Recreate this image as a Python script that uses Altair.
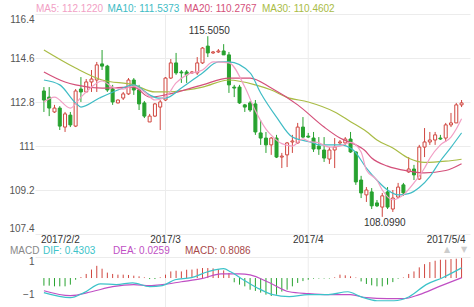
import altair as alt
import pandas as pd

# ---------------- data ----------------
opens = [113.26, 113.01, 112.40, 112.56, 111.78, 112.27, 111.82, 113.34, 113.22, 113.63,
         113.71, 114.37, 114.28, 113.34, 112.77, 112.97, 113.14, 113.71, 113.30, 112.77,
         111.99, 112.23, 112.60, 112.89, 113.79, 114.41, 114.04, 114.04, 114.00, 114.00,
         114.41, 115.10, 114.82, 114.86, 114.90, 114.74, 113.42, 113.42, 112.69, 112.77,
         112.73, 111.54, 111.33, 111.05, 111.33, 110.55, 110.64, 111.17, 111.13, 111.78,
         111.41, 111.33, 111.00, 110.84, 110.47, 110.84, 111.13, 111.13, 111.29, 110.76,
         109.61, 109.00, 109.12, 108.67, 108.50, 109.12, 108.42, 108.91, 109.41, 109.94,
         110.06, 109.65, 110.96, 111.17, 111.25, 111.33, 111.33, 111.87, 111.95, 112.69]
highs = [113.42, 113.42, 112.69, 112.64, 112.40, 112.40, 113.34, 113.83, 113.75, 114.12,
         114.45, 114.94, 114.33, 113.51, 112.91, 113.22, 113.79, 113.79, 113.51, 112.85,
         112.32, 112.77, 112.89, 113.83, 114.57, 114.82, 114.12, 114.12, 114.08, 114.65,
         115.06, 115.505, 114.90, 114.98, 115.18, 114.86, 113.51, 113.51, 112.73, 112.85,
         112.89, 112.07, 111.58, 111.37, 111.46, 110.72, 111.17, 111.46, 111.95, 112.19,
         111.54, 111.58, 111.37, 111.37, 110.96, 111.33, 111.25, 111.37, 111.58, 110.78,
         109.78, 109.32, 109.28, 108.79, 109.08, 109.32, 109.20, 109.49, 109.49, 110.55,
         110.23, 111.05, 111.74, 111.58, 111.58, 111.46, 111.95, 112.36, 112.77, 112.89]
lows = [112.40, 112.23, 112.36, 111.66, 111.58, 111.78, 111.78, 112.81, 113.22, 113.22,
        113.22, 114.12, 113.22, 112.69, 112.75, 112.89, 113.10, 113.10, 112.48, 112.15,
        111.99, 112.19, 111.66, 112.85, 113.75, 113.92, 113.59, 113.59, 113.96, 113.92,
        114.37, 114.65, 114.78, 114.82, 114.74, 113.18, 113.01, 112.73, 112.40, 112.40,
        111.46, 111.05, 110.72, 110.64, 110.51, 110.10, 110.14, 110.72, 111.09, 111.33,
        111.33, 110.76, 110.64, 110.35, 110.27, 110.10, 111.05, 111.05, 110.72, 109.41,
        108.87, 108.71, 108.42, 108.50, 108.099, 108.42, 108.30, 108.87, 108.96, 109.90,
        109.61, 109.61, 110.55, 111.05, 111.05, 111.25, 111.17, 111.78, 111.95, 112.60]
closes = [112.89, 112.56, 112.56, 111.82, 112.32, 111.87, 113.26, 113.22, 113.63, 113.75,
          114.33, 114.28, 113.30, 112.81, 112.89, 113.14, 113.71, 113.30, 112.73, 112.23,
          112.23, 112.73, 112.81, 113.79, 114.41, 114.00, 114.00, 113.92, 114.04, 114.41,
          115.02, 114.82, 114.86, 114.90, 114.74, 113.51, 113.38, 112.77, 112.60, 112.48,
          111.58, 111.33, 111.05, 111.33, 110.55, 110.59, 111.13, 111.21, 111.78, 111.37,
          111.37, 110.88, 110.88, 110.51, 110.84, 110.96, 111.17, 111.29, 110.76, 109.53,
          109.08, 109.20, 108.55, 108.55, 108.96, 108.50, 108.87, 109.32, 109.08, 110.06,
          109.82, 110.96, 111.17, 111.25, 111.46, 111.29, 111.87, 111.95, 112.69, 112.77]

ma5_i = [0, 2, 5, 7, 9, 11, 13, 15, 17, 19, 21, 23, 25, 27, 30, 32, 35, 38, 40, 42, 43, 45,
         47, 49, 50, 52, 54, 56, 58, 60, 61, 63, 64, 66, 68, 70, 72, 73, 75, 77, 78, 79]
ma5_v = [112.81, 113.01, 112.56, 113.0, 113.42, 113.67, 113.42, 113.34, 113.46, 113.22, 112.89,
         113.01, 113.59, 113.92, 114.12, 114.45, 114.41, 113.42, 112.45, 111.7, 111.45, 111.1,
         111.0, 111.3, 111.2, 111.13, 110.96, 111.0, 111.15, 110.76, 110.02, 109.6, 109.2,
         108.8, 109.0, 109.49, 110.1, 110.5, 111.05, 111.37, 111.7, 112.12]
ma10_i = [0, 3, 6, 7, 10.5, 14, 17, 20, 21.6, 23, 26, 30, 33, 35, 39, 41, 44, 47, 51, 52, 56,
          58.5, 61, 63, 65, 67, 69, 71, 73, 75, 77, 79]
ma10_v = [113.71, 113.51, 112.77, 112.60, 112.97, 113.30, 113.51, 113.10, 112.97, 112.97,
          113.38, 114.00, 114.45, 114.45, 114.00, 113.18, 112.19, 111.37, 111.13, 111.05,
          111.05, 110.84, 110.10, 109.6, 109.2, 109.0, 109.05, 109.3, 109.75, 110.4, 110.95,
          111.54]
ma20_i = [0, 4, 6, 11, 17, 20, 23, 30, 35, 39, 43, 48, 53, 56, 59, 60.6, 62, 65, 69, 72, 76, 79]
ma20_v = [114.04, 113.63, 113.51, 113.38, 113.42, 113.01, 113.10, 113.51, 113.79, 113.79,
          113.38, 112.69, 111.78, 111.33, 111.05, 110.84, 110.51, 110.18, 109.98, 109.90,
          110.0, 110.28]
ma30_i = [0, 6, 11, 17, 21, 23, 27, 30, 35, 40, 43, 46, 50, 55, 58, 61, 63, 66, 69, 72, 76, 79]
ma30_v = [114.94, 114.20, 113.71, 113.51, 113.22, 113.22, 113.3, 113.42, 113.71, 113.51,
          113.3, 113.0, 112.81, 112.4, 112.0, 111.6, 111.25, 110.92, 110.5, 110.33, 110.38,
          110.46]

macd_hist = [-0.45, -0.45, -0.49, -0.49, -0.49, -0.39, -0.1, 0.05, 0.24, 0.5,
             0.72, 0.55, 0.32, 0.24, 0.2, 0.2, 0.18, 0.14, 0.1, 0.04,
             -0.06, -0.06, 0.04, 0.2, 0.39, 0.43, 0.39, 0.49, 0.5, 0.55,
             0.59, 0.59, 0.57, 0.52, 0.45, 0.3, -0.25, -0.39, -0.49, -0.69,
             -0.76, -0.86, -0.98, -1.06, -0.98, -0.8, -0.69, -0.49, -0.29, -0.18,
             -0.1, -0.04, -0.03, -0.03, -0.03, 0.04, 0.2, 0.16, 0.1, 0.03,
             -0.2, -0.35, -0.43, -0.49, -0.49, -0.39, -0.24, -0.04, 0.03, 0.24,
             0.39, 0.63, 0.82, 0.94, 1.02, 1.08, 1.08, 1.12, 1.14, 1.18]
dif_i = [0, 5, 7.6, 10.7, 13.7, 16.8, 20, 22.4, 24.8, 27.9, 31, 34, 35.3, 37.7, 40.3, 43.3,
         46.4, 50, 53.8, 57.5, 59.9, 63, 66.2, 69.1, 72.3, 75.4, 79]
dif_v = [-0.86, -1.16, -0.86, -0.34, -0.39, -0.28, -0.51, -0.45, -0.1, 0.02, 0.37, 0.55, 0.37,
         -0.1, -0.57, -0.98, -1.1, -0.98, -0.98, -0.81, -1.1, -1.34, -1.34, -1.1, -0.39, 0.02,
         0.6]
dea_i = [0, 5, 9, 13, 17, 20, 22.4, 26, 29.8, 33.5, 37, 39, 42.7, 46.4, 50, 53.8, 58, 61, 65,
         68, 71, 74.7, 79]
dea_v = [-0.75, -1.04, -0.81, -0.51, -0.39, -0.45, -0.39, -0.22, -0.04, 0.25, 0.25, 0.19,
         -0.28, -0.81, -0.92, -0.98, -0.98, -1.16, -1.22, -1.22, -0.98, -0.51, 0.02]

date_idx = [0, 23, 50, 79]
date_lbl = ["2017/2/2", "2017/3", "2017/4", "2017/5/4"]
grid_idx = [23, 50]
price_ticks = [107.4, 109.2, 111.0, 112.8, 114.6, 116.4]
macd_ticks = [-1, 1]
macd_top = [1.25]
ma_names = ["MA5", "MA10", "MA20", "MA30"]
ma_last = ["112.1220", "111.5373", "110.2767", "110.4602"]
macd_names = ["DIF", "DEA", "MACD"]
macd_last = ["0.4303", "0.0259", "0.8086"]
max_idx, max_val = 31, 115.505
min_idx, min_val = 64, 108.099

# ---------------- styling ----------------
FONT = "Liberation Sans"
FS = 10
RED = "#d0463f"
GREEN = "#27a22f"
C_MA5, C_MA10, C_MA20, C_MA30 = "#f29fc5", "#3fbcc5", "#d4507a", "#a9bc45"
C_DIF, C_DEA, C_MACD = "#3cc3c9", "#c04fc4", "#a84848"
GRID = "#ececec"

n = len(opens)
candles = pd.DataFrame({"i": list(range(n)), "open": opens, "high": highs,
                        "low": lows, "close": closes})
candles["dir"] = ["up" if c >= o else "down" for o, c in zip(opens, closes)]
hist = pd.DataFrame({"i": list(range(n)), "m": macd_hist})
hist["sign"] = ["pos" if v >= 0 else "neg" for v in macd_hist]

X = alt.Scale(domain=[-0.74, 79.65], range=[0, 435], nice=False, zero=False)
YP = alt.Scale(domain=[107.4, 116.4], range=[233.9, 14.4], nice=False, zero=False)
YM = alt.Scale(domain=[-1.65, 1.3], range=[306, 256], nice=False, zero=False)
dir_stroke = alt.Scale(domain=["up", "down"], range=[RED, GREEN])
dir_fill = alt.Scale(domain=["up", "down"], range=["#ffffff", GREEN])

xq = alt.X("i:Q", scale=X, axis=None)

# vertical month grid lines
vgrid = alt.Chart(pd.DataFrame({"i": grid_idx})).mark_rule(color=GRID, strokeWidth=1).encode(
    x=xq, y=alt.Y(datum=116.4, scale=YP, axis=None), y2=alt.value(307))

wicks = alt.Chart(candles).mark_rule(strokeWidth=1).encode(
    x=xq,
    y=alt.Y("low:Q", scale=YP, title=None,
            axis=alt.Axis(values=price_ticks, labelExpr="format(datum.value, '~r')",
                          orient="left", labelFlush=True,
                          ticks=False, domain=False, grid=True, gridColor=GRID,
                          labelColor="#555", labelFont=FONT, labelFontSize=FS,
                          labelPadding=1)),
    y2="high:Q",
    stroke=alt.Stroke("dir:N", scale=dir_stroke, legend=None))

bodies = alt.Chart(candles).mark_bar(size=3, strokeWidth=1).encode(
    x=xq,
    y=alt.Y("open:Q", scale=YP, axis=None),
    y2="close:Q",
    fill=alt.Fill("dir:N", scale=dir_fill, legend=None),
    stroke=alt.Stroke("dir:N", scale=dir_stroke, legend=None))


def ma_line(idx, vals, color, scale, axis=None):
    df = pd.DataFrame({"i": idx, "v": vals})
    return alt.Chart(df).mark_line(color=color, strokeWidth=1.2, interpolate="monotone").encode(
        x=xq, y=alt.Y("v:Q", scale=scale, axis=axis, title=None))


lines = [ma_line(ma30_i, ma30_v, C_MA30, YP), ma_line(ma20_i, ma20_v, C_MA20, YP),
         ma_line(ma10_i, ma10_v, C_MA10, YP), ma_line(ma5_i, ma5_v, C_MA5, YP)]

hist_bars = alt.Chart(hist).mark_rule(strokeWidth=1).encode(
    x=xq,
    y=alt.Y("m:Q", scale=YM, title=None,
            axis=alt.Axis(values=macd_ticks, orient="left", ticks=False, domain=False,
                          grid=False, labelColor="#555", labelFont=FONT, labelFontSize=FS,
                          labelPadding=1)),
    y2=alt.datum(0),
    stroke=alt.Stroke("sign:N", scale=alt.Scale(domain=["pos", "neg"],
                                                range=["#a9514c", "#5aaa6a"]), legend=None))

macd_grid_axis = alt.Axis(values=macd_top, orient="left", labels=False, ticks=False,
                          domain=False, grid=True, gridColor=GRID)
macd_lines = [ma_line(dea_i, dea_v, C_DEA, YM, macd_grid_axis), ma_line(dif_i, dif_v, C_DIF, YM)]

# extreme labels
hi_lbl = alt.Chart(pd.DataFrame({"i": [max_idx], "v": [max_val]})).mark_text(
    baseline="alphabetic", align="center", dy=-2, dx=1.5, font=FONT, fontSize=FS,
    color="#333").encode(x=xq, y=alt.Y("v:Q", scale=YP, axis=None),
                         text=alt.Text("v:Q", format=".4f"))
lo_lbl = alt.Chart(pd.DataFrame({"i": [min_idx], "v": [min_val]})).mark_text(
    baseline="top", align="center", dy=1.5, dx=2.5, font=FONT, fontSize=FS,
    color="#333").encode(x=xq, y=alt.Y("v:Q", scale=YP, axis=None),
                         text=alt.Text("v:Q", format=".4f"))

# date labels
dates = pd.DataFrame({"i": date_idx, "t": date_lbl})


def date_text(rows, align, dx):
    return alt.Chart(dates.iloc[rows]).mark_text(
        align=align, baseline="alphabetic", dx=dx, font=FONT, fontSize=FS,
        color="#333").encode(x=xq, y=alt.value(242.5), text="t:N")


date_layers = [date_text([0], "left", -3), date_text([1, 2], "center", 0),
               date_text([3], "right", 4)]


def label(text, x, y, color, size=FS, font=FONT):
    return alt.Chart(pd.DataFrame({"t": [text]})).mark_text(
        align="left", baseline="alphabetic", font=font, fontSize=size, color=color).encode(
        x=alt.value(x), y=alt.value(y), text="t:N")


ma_cols = [C_MA5, C_MA10, C_MA20, C_MA30]
ma_x = [1, 72.5, 149, 227]
legend_top = [label(f"{nm}: {v}", x, 11.5, c) for nm, v, x, c in zip(ma_names, ma_last, ma_x, ma_cols)]
macd_x = [8, 78, 150]
macd_cols = [C_DIF, C_DEA, C_MACD]
legend_macd = [label("MACD", -25, 254, "#888")] + [
    label(f"{nm}: {v}", x, 254, c) for nm, v, x, c in zip(macd_names, macd_last, macd_x, macd_cols)]
arrows = [label("▲", 409, 252, "#cccccc", 8, "DejaVu Sans"),
          label("▼", 426, 252, "#cccccc", 8, "DejaVu Sans")]

layers = ([vgrid, wicks, bodies] + lines + [hist_bars] + macd_lines + [hi_lbl, lo_lbl]
          + date_layers + legend_top + legend_macd + arrows)

chart = alt.layer(*layers).resolve_scale(y="independent").properties(
    width=435, height=307,
    padding={"left": 35, "right": 4, "top": 0, "bottom": 0},
    autosize=alt.AutoSizeParams(type="none"),
    background="white",
).configure_view(stroke=None)

chart.save("out.html", embed_options={"renderer": "svg", "actions": False})
